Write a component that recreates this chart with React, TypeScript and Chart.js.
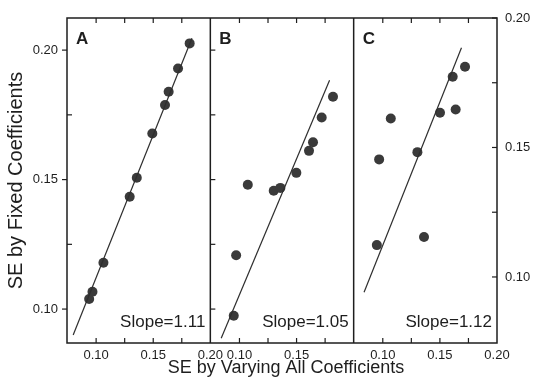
import React, { useEffect, useRef } from 'react';
import { Chart, registerables } from 'chart.js';

Chart.register(...registerables);

// ---- data ----
const panelA_x = [0.0939, 0.0968, 0.1064, 0.1294, 0.1356, 0.1492, 0.1603, 0.1635, 0.1717, 0.1819];
const panelA_y = [0.1039, 0.1067, 0.1179, 0.1434, 0.1507, 0.1678, 0.1788, 0.1839, 0.1929, 0.2026];
const fitA_x = [0.0799, 0.1839];
const fitA_y = [0.0900, 0.2046];

const panelB_x = [0.0950, 0.0971, 0.1073, 0.1300, 0.1358, 0.1498, 0.1609, 0.1644, 0.1720, 0.1819];
const panelB_y = [0.0974, 0.1208, 0.1480, 0.1457, 0.1468, 0.1526, 0.1611, 0.1644, 0.1740, 0.1820];
const fitB_x = [0.0840, 0.1789];
const fitB_y = [0.0887, 0.1884];

const panelC_x = [0.0948, 0.0968, 0.1070, 0.1303, 0.1361, 0.1501, 0.1612, 0.1638, 0.1720];
const panelC_y = [0.1123, 0.1454, 0.1612, 0.1482, 0.1154, 0.1634, 0.1773, 0.1647, 0.1812];
const fitC_x = [0.0836, 0.1689];
const fitC_y = [0.0941, 0.1885];

const X_TICKS = [0.1, 0.15, 0.2];
const X_TICKS_B = [0.1, 0.15];
const X_MINOR = [0.1, 0.125, 0.15, 0.175];
const Y_TICKS = [0.1, 0.15, 0.2];
const Y_ALL = [0.1, 0.125, 0.15, 0.175, 0.2];
const PANEL_LETTERS = ['A', 'B', 'C'];
const SLOPE_LABELS = ['Slope=1.11', 'Slope=1.05', 'Slope=1.12'];
const X_TITLE = 'SE by Varying All Coefficients';
const Y_TITLE = 'SE by Fixed Coefficients';

const X_MIN = 0.0745;
const X_MAX = 0.2;
const YL_MIN = 0.0869;
const YL_MAX = 0.2124;
const YR_MIN = 0.0745;
const YR_MAX = 0.2;

const FONT = "'Liberation Sans', Arial, Helvetica, sans-serif";
const INK = '#1e1e1e';
const DOT = '#3a3a3a';
const TICK = 5;
const X_IDS = ['xA', 'xB', 'xC'];

const pts = (xs: number[], ys: number[]) => xs.map((x, i) => ({ x, y: ys[i] }));

function makeX(ticks: number[]) {
  return {
    type: 'linear',
    axis: 'x',
    position: 'bottom',
    stack: 'panels',
    stackWeight: 1,
    min: X_MIN,
    max: X_MAX,
    grid: { display: false, drawTicks: false },
    border: { display: false },
    ticks: {
      font: { family: FONT, size: 13 },
      color: INK,
      padding: 5,
      autoSkip: false,
      maxRotation: 0,
      callback: (v: number) => Number(v).toFixed(2),
    },
    afterBuildTicks: (s: any) => {
      s.ticks = ticks.map((v) => ({ value: v }));
    },
    afterFit: (s: any) => {
      s.height = 42;
    },
  };
}

function scatterSet(xs: number[], ys: number[], xid: string, yid: string) {
  return {
    type: 'scatter',
    data: pts(xs, ys),
    xAxisID: xid,
    yAxisID: yid,
    pointRadius: 5,
    pointBackgroundColor: DOT,
    pointBorderColor: DOT,
    pointBorderWidth: 0,
    showLine: false,
  };
}

function fitSet(xs: number[], ys: number[], xid: string, yid: string) {
  return {
    type: 'line',
    data: pts(xs, ys),
    xAxisID: xid,
    yAxisID: yid,
    borderColor: '#2e2e2e',
    borderWidth: 1.2,
    pointRadius: 0,
    fill: false,
    tension: 0,
  };
}

const decorPlugin = {
  id: 'decor',
  afterDraw(chart: any) {
    const { ctx, chartArea: ca } = chart;
    const xs = X_IDS.map((id) => chart.scales[id]);
    const yL = chart.scales.y;
    const yR = chart.scales.y2;
    const seg = (x1: number, y1: number, x2: number, y2: number) => {
      ctx.beginPath();
      ctx.moveTo(x1, y1);
      ctx.lineTo(x2, y2);
      ctx.stroke();
    };
    ctx.save();
    ctx.strokeStyle = INK;
    ctx.lineWidth = 1.5;
    ctx.strokeRect(ca.left, ca.top, ca.right - ca.left, ca.bottom - ca.top);
    seg(xs[0].right, ca.top, xs[0].right, ca.bottom);
    seg(xs[1].right, ca.top, xs[1].right, ca.bottom);

    ctx.lineWidth = 1.2;
    xs.forEach((s: any) => {
      X_MINOR.forEach((v) => {
        const p = s.getPixelForValue(v);
        seg(p, ca.top, p, ca.top + TICK);
        seg(p, ca.bottom, p, ca.bottom - TICK);
      });
    });
    Y_ALL.forEach((v) => {
      const p = yL.getPixelForValue(v);
      if (Y_TICKS.includes(v)) seg(ca.left - TICK, p, ca.left, p);
      else seg(ca.left, p, ca.left + TICK, p);
      seg(xs[1].left, p, xs[1].left + TICK, p);
      const q = yR.getPixelForValue(v);
      seg(ca.right - TICK, q, ca.right, q);
    });

    ctx.fillStyle = INK;
    xs.forEach((s: any, i: number) => {
      ctx.font = `bold 17px ${FONT}`;
      ctx.textAlign = 'left';
      ctx.textBaseline = 'alphabetic';
      ctx.fillText(PANEL_LETTERS[i], s.left + 9, ca.top + 26);
      ctx.font = `17px ${FONT}`;
      ctx.textAlign = 'right';
      ctx.fillText(SLOPE_LABELS[i], s.right - 5, ca.bottom - 16);
    });

    ctx.font = `18px ${FONT}`;
    ctx.textAlign = 'center';
    ctx.textBaseline = 'alphabetic';
    ctx.fillText(X_TITLE, (ca.left + ca.right) / 2 + 4, ca.bottom + 30);
    ctx.restore();
  },
};

export default function App() {
  const canvasRef = useRef<HTMLCanvasElement | null>(null);

  useEffect(() => {
    const canvas = canvasRef.current;
    if (!canvas) return;
    const chart = new Chart(canvas, {
      type: 'scatter',
      data: {
        datasets: [
          fitSet(fitA_x, fitA_y, 'xA', 'y'),
          scatterSet(panelA_x, panelA_y, 'xA', 'y'),
          fitSet(fitB_x, fitB_y, 'xB', 'y'),
          scatterSet(panelB_x, panelB_y, 'xB', 'y'),
          fitSet(fitC_x, fitC_y, 'xC', 'y2'),
          scatterSet(panelC_x, panelC_y, 'xC', 'y2'),
        ] as any,
      },
      options: {
        responsive: false,
        devicePixelRatio: 1,
        animation: false,
        events: [],
        layout: { padding: { top: 18, left: 0, right: 0, bottom: 0 } },
        plugins: {
          legend: { display: false },
          tooltip: { enabled: false },
          title: { display: false },
        },
        scales: {
          xA: makeX(X_TICKS),
          xB: makeX(X_TICKS_B),
          xC: makeX(X_TICKS),
          y: {
            type: 'linear',
            axis: 'y',
            position: 'left',
            min: YL_MIN,
            max: YL_MAX,
            grid: { display: false, drawTicks: false },
            border: { display: false },
            ticks: {
              font: { family: FONT, size: 13 },
              color: INK,
              padding: 9,
              callback: (v: number) => Number(v).toFixed(2),
            },
            afterBuildTicks: (s: any) => {
              s.ticks = Y_TICKS.map((v) => ({ value: v }));
            },
            afterFit: (s: any) => {
              s.width = 67;
            },
            title: {
              display: true,
              text: Y_TITLE,
              color: INK,
              font: { family: FONT, size: 20 },
              padding: { top: 4, bottom: 0 },
            },
          },
          y2: {
            type: 'linear',
            axis: 'y',
            position: 'right',
            min: YR_MIN,
            max: YR_MAX,
            grid: { display: false, drawTicks: false },
            border: { display: false },
            ticks: {
              font: { family: FONT, size: 13 },
              color: INK,
              padding: 8,
              callback: (v: number) => Number(v).toFixed(2),
            },
            afterBuildTicks: (s: any) => {
              s.ticks = Y_TICKS.map((v) => ({ value: v }));
            },
            afterFit: (s: any) => {
              s.width = 37;
            },
          },
        } as any,
      },
      plugins: [decorPlugin],
    });
    return () => {
      chart.destroy();
    };
  }, []);

  return (
    <div style={{ position: 'fixed', left: 0, top: 0, width: 534, height: 385, background: '#ffffff' }}>
      <canvas ref={canvasRef} width={534} height={385} style={{ display: 'block' }} />
    </div>
  );
}
